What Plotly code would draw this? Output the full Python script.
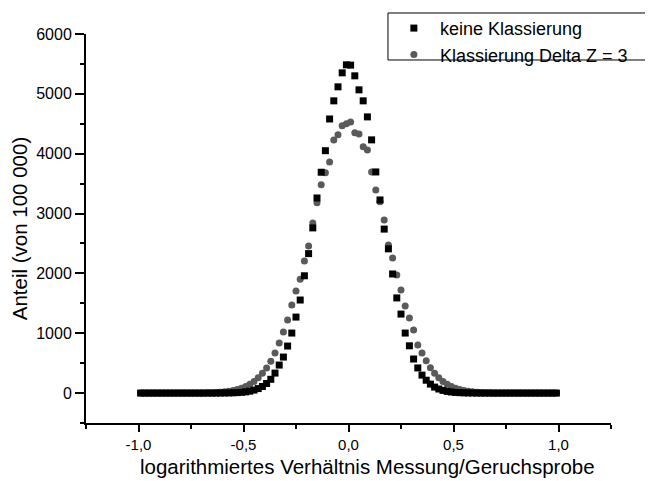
import plotly.graph_objects as go

# bin centres of the logarithmic ratio
x_values = [-0.99, -0.97, -0.95, -0.93, -0.91, -0.89, -0.87, -0.85, -0.83, -0.81,
            -0.79, -0.77, -0.75, -0.73, -0.71, -0.69, -0.67, -0.65, -0.63, -0.61,
            -0.59, -0.57, -0.55, -0.53, -0.51, -0.49, -0.47, -0.45, -0.43, -0.41,
            -0.39, -0.37, -0.35, -0.33, -0.31, -0.29, -0.27, -0.25, -0.23, -0.21,
            -0.19, -0.17, -0.15, -0.13, -0.11, -0.09, -0.07, -0.05, -0.03, -0.01,
            0.01, 0.03, 0.05, 0.07, 0.09, 0.11, 0.13, 0.15, 0.17, 0.19,
            0.21, 0.23, 0.25, 0.27, 0.29, 0.31, 0.33, 0.35, 0.37, 0.39,
            0.41, 0.43, 0.45, 0.47, 0.49, 0.51, 0.53, 0.55, 0.57, 0.59,
            0.61, 0.63, 0.65, 0.67, 0.69, 0.71, 0.73, 0.75, 0.77, 0.79,
            0.81, 0.83, 0.85, 0.87, 0.89, 0.91, 0.93, 0.95, 0.97, 0.99]

# "keine Klassierung"
keine_klassierung = [0, 0, 0, 0, 0, 0, 0, 0, 0, 0,
                     0, 0, 0, 0, 0, 0, 0, 0, 0, 1,
                     2, 3, 5, 8, 13, 20, 32, 50, 75, 110,
                     160, 230, 334, 468, 602, 786, 1003, 1270, 1555, 1960,
                     2330, 2760, 3260, 3690, 4050, 4580, 4883, 5117, 5351, 5485,
                     5480, 5301, 5067, 4883, 4615, 4231, 3695, 3227, 2740, 2410,
                     1990, 1590, 1320, 1003, 790, 569, 420, 300, 215, 150,
                     100, 68, 45, 28, 18, 11, 7, 4, 3, 2,
                     1, 0, 0, 0, 0, 0, 0, 0, 0, 0,
                     0, 0, 0, 0, 0, 0, 0, 0, 0, 0]

# "Klassierung Delta Z = 3"
klassierung_dz3 = [0, 0, 0, 0, 0, 0, 0, 0, 0, 0,
                   0, 0, 0, 1, 2, 3, 4, 7, 10, 14,
                   21, 30, 42, 58, 80, 109, 147, 195, 256, 331,
                   420, 530, 670, 836, 1020, 1220, 1470, 1706, 1900, 2207,
                   2458, 2840, 3180, 3480, 3680, 3860, 4230, 4315, 4465, 4500,
                   4530, 4350, 4330, 4115, 4060, 3695, 3395, 3195, 2890, 2475,
                   2257, 1973, 1722, 1455, 1254, 1053, 803, 669, 540, 425,
                   330, 255, 195, 147, 109, 80, 58, 42, 30, 21,
                   14, 10, 7, 4, 3, 2, 1, 0, 0, 0,
                   0, 0, 0, 0, 0, 0, 0, 0, 0, 0]

series_names = ["keine Klassierung", "Klassierung Delta Z = 3"]

x_tick_values = [-1.0, -0.5, 0.0, 0.5, 1.0]
x_tick_labels = ["-1,0", "-0,5", "0,0", "0,5", "1,0"]
x_minor_ticks = [-1.25, -0.75, -0.25, 0.25, 0.75, 1.25]
y_tick_values = [0, 1000, 2000, 3000, 4000, 5000, 6000]
y_tick_labels = ["0", "1000", "2000", "3000", "4000", "5000", "6000"]

x_title = "logarithmiertes Verhältnis Messung/Geruchsprobe"
y_title = "Anteil (von 100 000)"

fig = go.Figure()
fig.add_trace(go.Scatter(
    x=x_values, y=klassierung_dz3, mode="markers", name=series_names[1],
    marker=dict(symbol="circle", size=7, color="#5a5a5a"),
))
fig.add_trace(go.Scatter(
    x=x_values, y=keine_klassierung, mode="markers", name=series_names[0],
    marker=dict(symbol="square", size=7, color="#000000"),
))

font_family = "Liberation Sans, Arial, Helvetica, sans-serif"

# the page adds an 8 px body margin, so the figure is 8 px smaller
fig.update_layout(
    width=645, height=473, autosize=False,
    margin=dict(l=78, r=42, t=26, b=58, autoexpand=False),
    paper_bgcolor="white", plot_bgcolor="white",
    font=dict(family=font_family, color="black", size=15),
    showlegend=True,
    legend=dict(
        x=0.575, xanchor="left", y=1.062, yanchor="top",
        bgcolor="rgba(0,0,0,0)", borderwidth=0,
        traceorder="reversed", font=dict(size=18),
        itemwidth=42, tracegroupgap=0,
    ),
    shapes=[dict(
        type="rect", xref="paper", yref="paper",
        x0=0.5752, x1=1.0705, y0=0.9332, y1=1.054,
        line=dict(color="black", width=1), fillcolor="white", layer="below",
    )],
    annotations=[dict(
        text=x_title, xref="paper", yref="paper",
        x=0.537, y=-0.113, xanchor="center", yanchor="middle",
        showarrow=False, font=dict(size=20.5),
    )],
)
fig.update_xaxes(
    range=[-1.25, 1.25], showgrid=False, zeroline=False, automargin=False,
    showline=True, linecolor="black", linewidth=2,
    ticks="outside", ticklen=7, tickwidth=1.5, tickcolor="black",
    tickmode="array", tickvals=x_tick_values, ticktext=x_tick_labels,
    minor=dict(tickmode="array", tickvals=x_minor_ticks, ticks="outside",
               ticklen=4, tickwidth=1.5, tickcolor="black", showgrid=False),
    tickfont=dict(size=15),
)
fig.update_yaxes(
    range=[-500, 6000], showgrid=False, zeroline=False, automargin=False,
    showline=True, linecolor="black", linewidth=2,
    ticks="outside", ticklen=9, tickwidth=1.5, tickcolor="black",
    tickmode="array", tickvals=y_tick_values, ticktext=y_tick_labels,
    minor=dict(dtick=500, tick0=0, ticks="outside", ticklen=4, tickwidth=1.5,
               tickcolor="black", showgrid=False),
    tickfont=dict(size=16),
    title=dict(text=y_title, font=dict(size=20.5), standoff=4),
)

fig.write_html("out.html")
